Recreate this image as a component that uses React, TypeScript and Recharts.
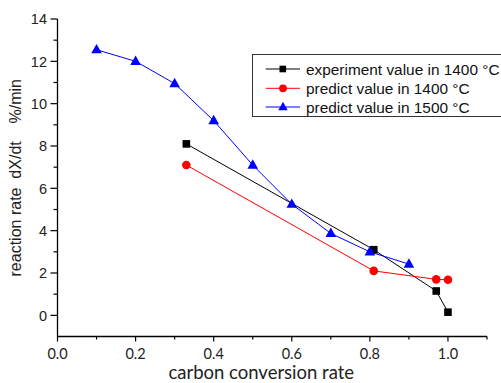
import React from "react";
import { LineChart, Line, XAxis, YAxis, Legend } from "recharts";

const expX = [0.33, 0.81, 0.97, 1.0];
const expY = [8.1, 3.1, 1.15, 0.15];
const pred1400X = [0.33, 0.81, 0.97, 1.0];
const pred1400Y = [7.1, 2.1, 1.7, 1.68];
const pred1500X = [0.1, 0.2, 0.3, 0.4, 0.5, 0.6, 0.7, 0.8, 0.9];
const pred1500Y = [12.55, 12.0, 10.95, 9.2, 7.1, 5.25, 3.87, 3.0, 2.42];

const xTicks = [0, 0.1, 0.2, 0.3, 0.4, 0.5, 0.6, 0.7, 0.8, 0.9, 1.0, 1.1];
const xMajor = [0, 0.2, 0.4, 0.6, 0.8, 1.0];
const yTicks = [0, 1, 2, 3, 4, 5, 6, 7, 8, 9, 10, 11, 12, 13, 14];
const yMajor = [0, 2, 4, 6, 8, 10, 12, 14];

const seriesNames = [
  "experiment value in 1400 °C",
  "predict value in 1400 °C",
  "predict value in 1500 °C",
];
const seriesColors = ["#000000", "#ff0000", "#0000ff"];

const zip = (xs: number[], ys: number[]) => xs.map((x, i) => ({ x, y: ys[i] }));

const expData = zip(expX, expY);
const pred1400Data = zip(pred1400X, pred1400Y);
const pred1500Data = zip(pred1500X, pred1500Y);

const isMajor = (list: number[], v: number) => list.some((m) => Math.abs(m - v) < 1e-6);

const SquareDot = (p: any) => {
  if (p.cx == null || p.cy == null) return null;
  return <rect key={p.index} x={p.cx - 3.8} y={p.cy - 3.8} width={7.6} height={7.6} fill="#000" />;
};
const CircleDot = (p: any) => {
  if (p.cx == null || p.cy == null) return null;
  return <circle key={p.index} cx={p.cx} cy={p.cy} r={4.3} fill="#ff0000" />;
};
const TriDot = (p: any) => {
  if (p.cx == null || p.cy == null) return null;
  const { cx, cy } = p;
  return (
    <polygon
      key={p.index}
      points={`${cx},${cy - 5.8} ${cx - 5.3},${cy + 3.6} ${cx + 5.3},${cy + 3.6}`}
      fill="#0000ff"
    />
  );
};

const YTick = (p: any) => {
  const { x, y, payload } = p;
  const major = isMajor(yMajor, payload.value);
  return (
    <g>
      <line x1={x - (major ? 7 : 4)} x2={x} y1={y} y2={y} stroke="#000" strokeWidth={1.2} />
      {major && (
        <text
          x={x - 10.5}
          y={y}
          dy="0.36em"
          textAnchor="end"
          fontSize={14.5}
          fontFamily="'Liberation Sans', Arial, sans-serif"
          fill="#222"
        >
          {payload.value}
        </text>
      )}
    </g>
  );
};

const XTick = (p: any) => {
  const { x, y, payload } = p;
  const major = isMajor(xMajor, payload.value);
  return (
    <g>
      <line x1={x} x2={x} y1={y} y2={y + (major ? 5 : 3)} stroke="#000" strokeWidth={1.2} />
      {major && (
        <text
          x={x}
          y={y + 22.5}
          textAnchor="middle"
          fontSize={14.5}
          fontFamily="Lato, 'Open Sans', sans-serif"
          fill="#222"
        >
          {payload.value.toFixed(1)}
        </text>
      )}
    </g>
  );
};

const LegendBox = () => {
  const rows = [15, 34.3, 53];
  return (
    <svg width={262} height={64} style={{ display: "block" }}>
      <rect x={0.5} y={0.5} width={259} height={62} fill="#fff" stroke="#333" strokeWidth={1} />
      {rows.map((ry, i) => (
        <g key={i}>
          <line x1={13.7} x2={48} y1={ry} y2={ry} stroke={seriesColors[i]} strokeWidth={1} />
          {i === 0 && <rect x={27.5} y={ry - 3.3} width={6.6} height={6.6} fill="#000" />}
          {i === 1 && <circle cx={31} cy={ry} r={3.9} fill="#ff0000" />}
          {i === 2 && (
            <polygon
              points={`${31},${ry - 5.3} ${26.3},${ry + 3.2} ${35.7},${ry + 3.2}`}
              fill="#0000ff"
            />
          )}
          <text
            x={54}
            y={ry + 5.6}
            fontSize={15.4}
            fontFamily="'Liberation Sans', Arial, sans-serif"
            fill="#111"
          >
            {seriesNames[i]}
          </text>
        </g>
      ))}
    </svg>
  );
};

export default function App() {
  return (
    <div
      style={{
        position: "absolute",
        left: 0,
        top: 0,
        width: 501,
        height: 383,
        overflow: "hidden",
        background: "#fff",
      }}
    >
      <LineChart width={501} height={383} margin={{ top: 19, right: 14, bottom: 0, left: 0 }}>
        <XAxis
          type="number"
          dataKey="x"
          domain={[0, 1.1]}
          ticks={xTicks}
          interval={0}
          height={46.5}
          tickSize={0}
          tickMargin={0}
          tickLine={false}
          tick={<XTick />}
          axisLine={{ stroke: "#000", strokeWidth: 1.3 }}
          allowDataOverflow
          label={{
            content: (props: any) => {
              const vb = props.viewBox;
              return (
                <text
                  x={vb.x + vb.width / 2 - 11}
                  y={vb.y + 42.5}
                  textAnchor="middle"
                  fontSize={18.5}
                  fontFamily="Lato, 'Open Sans', sans-serif"
                  fill="#222"
                >
                  carbon conversion rate
                </text>
              );
            },
          }}
        />
        <YAxis
          type="number"
          dataKey="y"
          domain={[-1, 14]}
          ticks={yTicks}
          interval={0}
          width={57.5}
          tickSize={0}
          tickMargin={0}
          tickLine={false}
          tick={<YTick />}
          axisLine={{ stroke: "#000", strokeWidth: 1.3 }}
          allowDataOverflow
          label={{
            content: (props: any) => {
              const vb = props.viewBox;
              const cy = vb.y + vb.height / 2;
              return (
                <text
                  x={15}
                  y={cy}
                  transform={`rotate(-90 15 ${cy})`}
                  textAnchor="middle"
                  dy="0.36em"
                  fontSize={16}
                  fontFamily="'Liberation Sans', Arial, sans-serif"
                  fill="#222"
                  style={{ whiteSpace: "pre" }}
                >
                  {"reaction rate  dX/dt    %/min"}
                </text>
              );
            },
          }}
        />
        <Legend
          layout="vertical"
          align="center"
          verticalAlign="middle"
          content={<LegendBox />}
          wrapperStyle={{ left: 252, top: 54, width: 262, height: 64 }}
        />
        <Line
          data={expData}
          dataKey="y"
          name={seriesNames[0]}
          stroke={seriesColors[0]}
          strokeWidth={1}
          dot={<SquareDot />}
          activeDot={false}
          isAnimationActive={false}
        />
        <Line
          data={pred1400Data}
          dataKey="y"
          name={seriesNames[1]}
          stroke={seriesColors[1]}
          strokeWidth={1}
          dot={<CircleDot />}
          activeDot={false}
          isAnimationActive={false}
        />
        <Line
          data={pred1500Data}
          dataKey="y"
          name={seriesNames[2]}
          stroke={seriesColors[2]}
          strokeWidth={1}
          dot={<TriDot />}
          activeDot={false}
          isAnimationActive={false}
        />
      </LineChart>
    </div>
  );
}
